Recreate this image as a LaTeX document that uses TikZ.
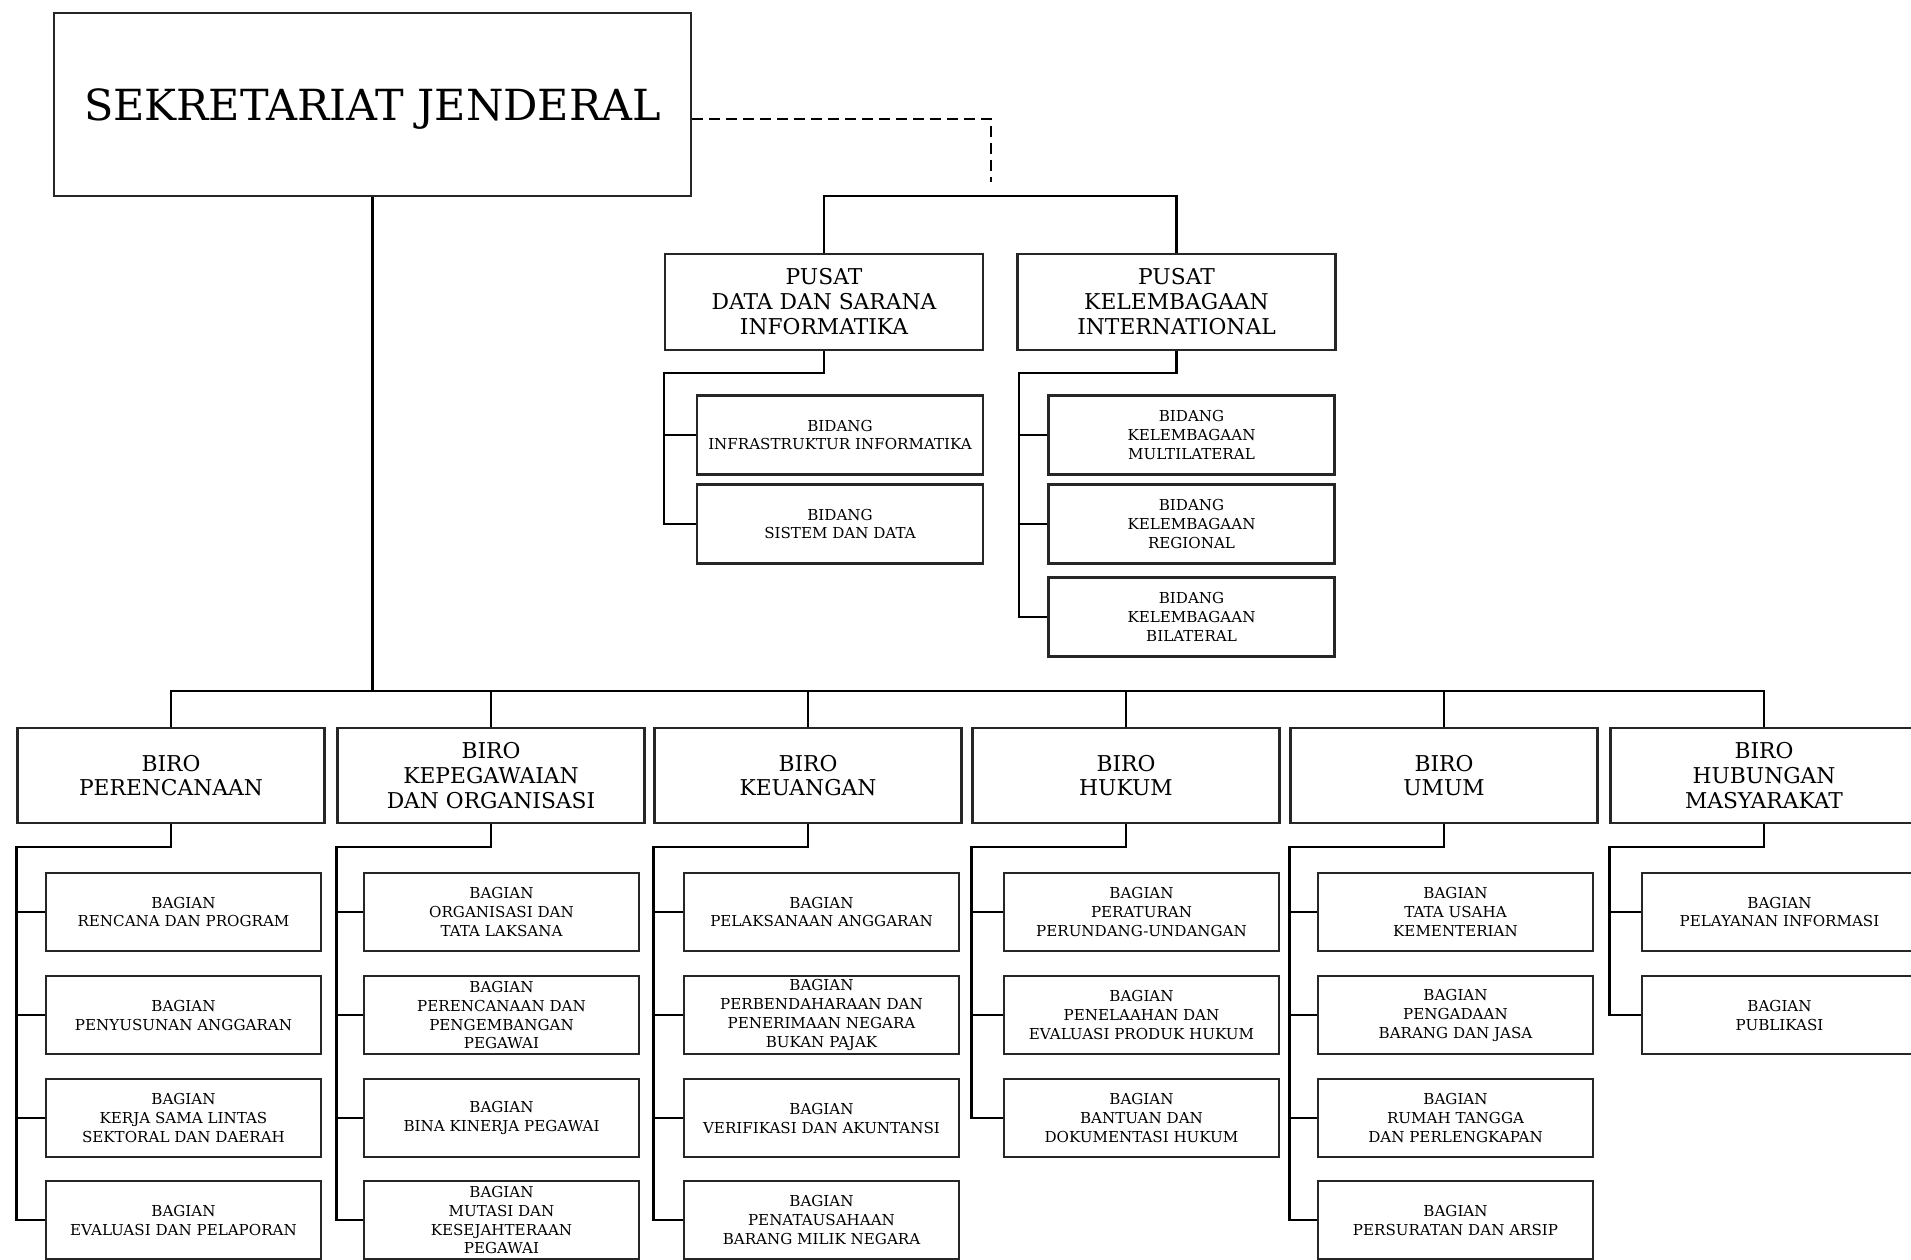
\documentclass[tikz,border=0pt]{standalone}
\usepackage{fontspec}
\setmainfont{DejaVu Serif}
\usepackage{tikz}

\begin{document}
\begin{tikzpicture}[x=0.1mm,y=-0.1mm,line width=0.7pt]
  % Definisi gaya
  \tikzstyle{kotak}=[draw=black!85, align=center, inner sep=0pt]
  \tikzstyle{pimpinan}=[kotak, minimum width=63.7mm, minimum height=18.3mm, text depth=0pt, font=\fontsize{12.2}{14}\selectfont]
  \tikzstyle{pusat}=[kotak, minimum width=31.8mm, minimum height=9.6mm, font=\fontsize{6.2}{7.1}\selectfont]
  \tikzstyle{bidang}=[kotak, minimum width=28.6mm, minimum height=7.9mm, font=\fontsize{4.3}{5.3}\selectfont]
  \tikzstyle{biro}=[kotak, minimum width=30.7mm, minimum height=9.5mm, font=\fontsize{6.2}{7}\selectfont]
  \tikzstyle{bagian}=[kotak, minimum width=27.5mm, minimum height=7.8mm, font=\fontsize{4.3}{5.4}\selectfont]

  \clip (0,0) rectangle (1911,1260);

  % Pimpinan
  \node[pimpinan] (sekjen) at (372.5,104.5) {SEKRETARIAT JENDERAL};

  % Pusat dan bidang
  \node[pusat] (pusatdata) at (824,302) {PUSAT\\DATA DAN SARANA\\INFORMATIKA};
  \node[pusat] (pusatkl) at (1176.5,302) {PUSAT\\KELEMBAGAAN\\INTERNATIONAL};
  \node[bidang] (infra) at (840,435) {BIDANG\\INFRASTRUKTUR INFORMATIKA};
  \node[bidang] (sistem) at (840,524) {BIDANG\\SISTEM DAN DATA};
  \node[bidang] (multi) at (1191.5,435) {BIDANG\\KELEMBAGAAN\\MULTILATERAL};
  \node[bidang] (regional) at (1191.5,524) {BIDANG\\KELEMBAGAAN\\REGIONAL};
  \node[bidang] (bilateral) at (1191.5,617) {BIDANG\\KELEMBAGAAN\\BILATERAL};

  % Biro
  \node[biro] (perencanaan) at (171,775.5) {BIRO\\PERENCANAAN};
  \node[biro] (kepegawaian) at (491,775.5) {BIRO\\KEPEGAWAIAN\\DAN ORGANISASI};
  \node[biro] (keuangan) at (808,775.5) {BIRO\\KEUANGAN};
  \node[biro] (hukum) at (1126,775.5) {BIRO\\HUKUM};
  \node[biro] (umum) at (1444,775.5) {BIRO\\UMUM};
  \node[biro] (humas) at (1764,775.5) {BIRO\\HUBUNGAN\\MASYARAKAT};

  % Bagian
  \node[bagian] (rencana) at (183.5,912) {BAGIAN\\RENCANA DAN PROGRAM};
  \node[bagian] (anggaran) at (183.5,1015) {BAGIAN\\PENYUSUNAN ANGGARAN};
  \node[bagian] (kerjasama) at (183.5,1118) {BAGIAN\\KERJA SAMA LINTAS\\SEKTORAL DAN DAERAH};
  \node[bagian] (evaluasi) at (183.5,1220) {BAGIAN\\EVALUASI DAN PELAPORAN};

  \node[bagian] (organisasi) at (501.5,912) {BAGIAN\\ORGANISASI DAN\\TATA LAKSANA};
  \node[bagian] (pengembangan) at (501.5,1015) {BAGIAN\\PERENCANAAN DAN\\PENGEMBANGAN\\PEGAWAI};
  \node[bagian] (kinerja) at (501.5,1118) {BAGIAN\\BINA KINERJA PEGAWAI};
  \node[bagian] (mutasi) at (501.5,1220) {BAGIAN\\MUTASI DAN\\KESEJAHTERAAN\\PEGAWAI};

  \node[bagian] (pelaksanaan) at (821.5,912) {BAGIAN\\PELAKSANAAN ANGGARAN};
  \node[bagian] (perbendaharaan) at (821.5,1015) {BAGIAN\\PERBENDAHARAAN DAN\\PENERIMAAN NEGARA\\BUKAN PAJAK};
  \node[bagian] (verifikasi) at (821.5,1118) {BAGIAN\\VERIFIKASI DAN AKUNTANSI};
  \node[bagian] (penatausahaan) at (821.5,1220) {BAGIAN\\PENATAUSAHAAN\\BARANG MILIK NEGARA};

  \node[bagian] (peraturan) at (1141.5,912) {BAGIAN\\PERATURAN\\PERUNDANG-UNDANGAN};
  \node[bagian] (penelaahan) at (1141.5,1015) {BAGIAN\\PENELAAHAN DAN\\EVALUASI PRODUK HUKUM};
  \node[bagian] (bantuan) at (1141.5,1118) {BAGIAN\\BANTUAN DAN\\DOKUMENTASI HUKUM};

  \node[bagian] (tatausaha) at (1455.5,912) {BAGIAN\\TATA USAHA\\KEMENTERIAN};
  \node[bagian] (pengadaan) at (1455.5,1015) {BAGIAN\\PENGADAAN\\BARANG DAN JASA};
  \node[bagian] (rumahtangga) at (1455.5,1118) {BAGIAN\\RUMAH TANGGA\\DAN PERLENGKAPAN};
  \node[bagian] (persuratan) at (1455.5,1220) {BAGIAN\\PERSURATAN DAN ARSIP};

  \node[bagian] (pelayanan) at (1779.5,912) {BAGIAN\\PELAYANAN INFORMASI};
  \node[bagian] (publikasi) at (1779.5,1015) {BAGIAN\\PUBLIKASI};

  % Garis koordinasi
  \coordinate (ujung) at (991,182);
  \draw[dashed, dash pattern=on 1.1mm off 0.6mm] (sekjen.east |- 0,119) -| (ujung);
  \draw (pusatdata.north) -- ++(0,-57) -| (pusatkl.north);

  % Garis pusat ke bidang
  \coordinate (tpd) at (pusatdata.west |- 0,373);
  \draw (pusatdata.south) |- (tpd) |- (sistem.west);
  \draw (tpd |- infra.west) -- (infra.west);
  \coordinate (tpk) at (1019,373);
  \draw (pusatkl.south) |- (tpk) |- (bilateral.west);
  \draw (tpk |- multi.west) -- (multi.west);
  \draw (tpk |- regional.west) -- (regional.west);

  % Garis sekjen ke biro
  \coordinate (bus) at (sekjen.south |- 0,691);
  \draw (sekjen.south) -- (bus);
  \draw (perencanaan.north) |- (bus) -| (humas.north);
  \draw (bus -| kepegawaian.north) -- (kepegawaian.north);
  \draw (bus -| keuangan.north) -- (keuangan.north);
  \draw (bus -| hukum.north) -- (hukum.north);
  \draw (bus -| umum.north) -- (umum.north);

  % Garis biro ke bagian
  \coordinate (t1) at (perencanaan.west |- 0,847);
  \draw (perencanaan.south) |- (t1) |- (evaluasi.west);
  \draw (t1 |- rencana.west) -- (rencana.west);
  \draw (t1 |- anggaran.west) -- (anggaran.west);
  \draw (t1 |- kerjasama.west) -- (kerjasama.west);

  \coordinate (t2) at (kepegawaian.west |- 0,847);
  \draw (kepegawaian.south) |- (t2) |- (mutasi.west);
  \draw (t2 |- organisasi.west) -- (organisasi.west);
  \draw (t2 |- pengembangan.west) -- (pengembangan.west);
  \draw (t2 |- kinerja.west) -- (kinerja.west);

  \coordinate (t3) at (keuangan.west |- 0,847);
  \draw (keuangan.south) |- (t3) |- (penatausahaan.west);
  \draw (t3 |- pelaksanaan.west) -- (pelaksanaan.west);
  \draw (t3 |- perbendaharaan.west) -- (perbendaharaan.west);
  \draw (t3 |- verifikasi.west) -- (verifikasi.west);

  \coordinate (t4) at (hukum.west |- 0,847);
  \draw (hukum.south) |- (t4) |- (bantuan.west);
  \draw (t4 |- peraturan.west) -- (peraturan.west);
  \draw (t4 |- penelaahan.west) -- (penelaahan.west);

  \coordinate (t5) at (umum.west |- 0,847);
  \draw (umum.south) |- (t5) |- (persuratan.west);
  \draw (t5 |- tatausaha.west) -- (tatausaha.west);
  \draw (t5 |- pengadaan.west) -- (pengadaan.west);
  \draw (t5 |- rumahtangga.west) -- (rumahtangga.west);

  \coordinate (t6) at (humas.west |- 0,847);
  \draw (humas.south) |- (t6) |- (publikasi.west);
  \draw (t6 |- pelayanan.west) -- (pelayanan.west);
\end{tikzpicture}
\end{document}
